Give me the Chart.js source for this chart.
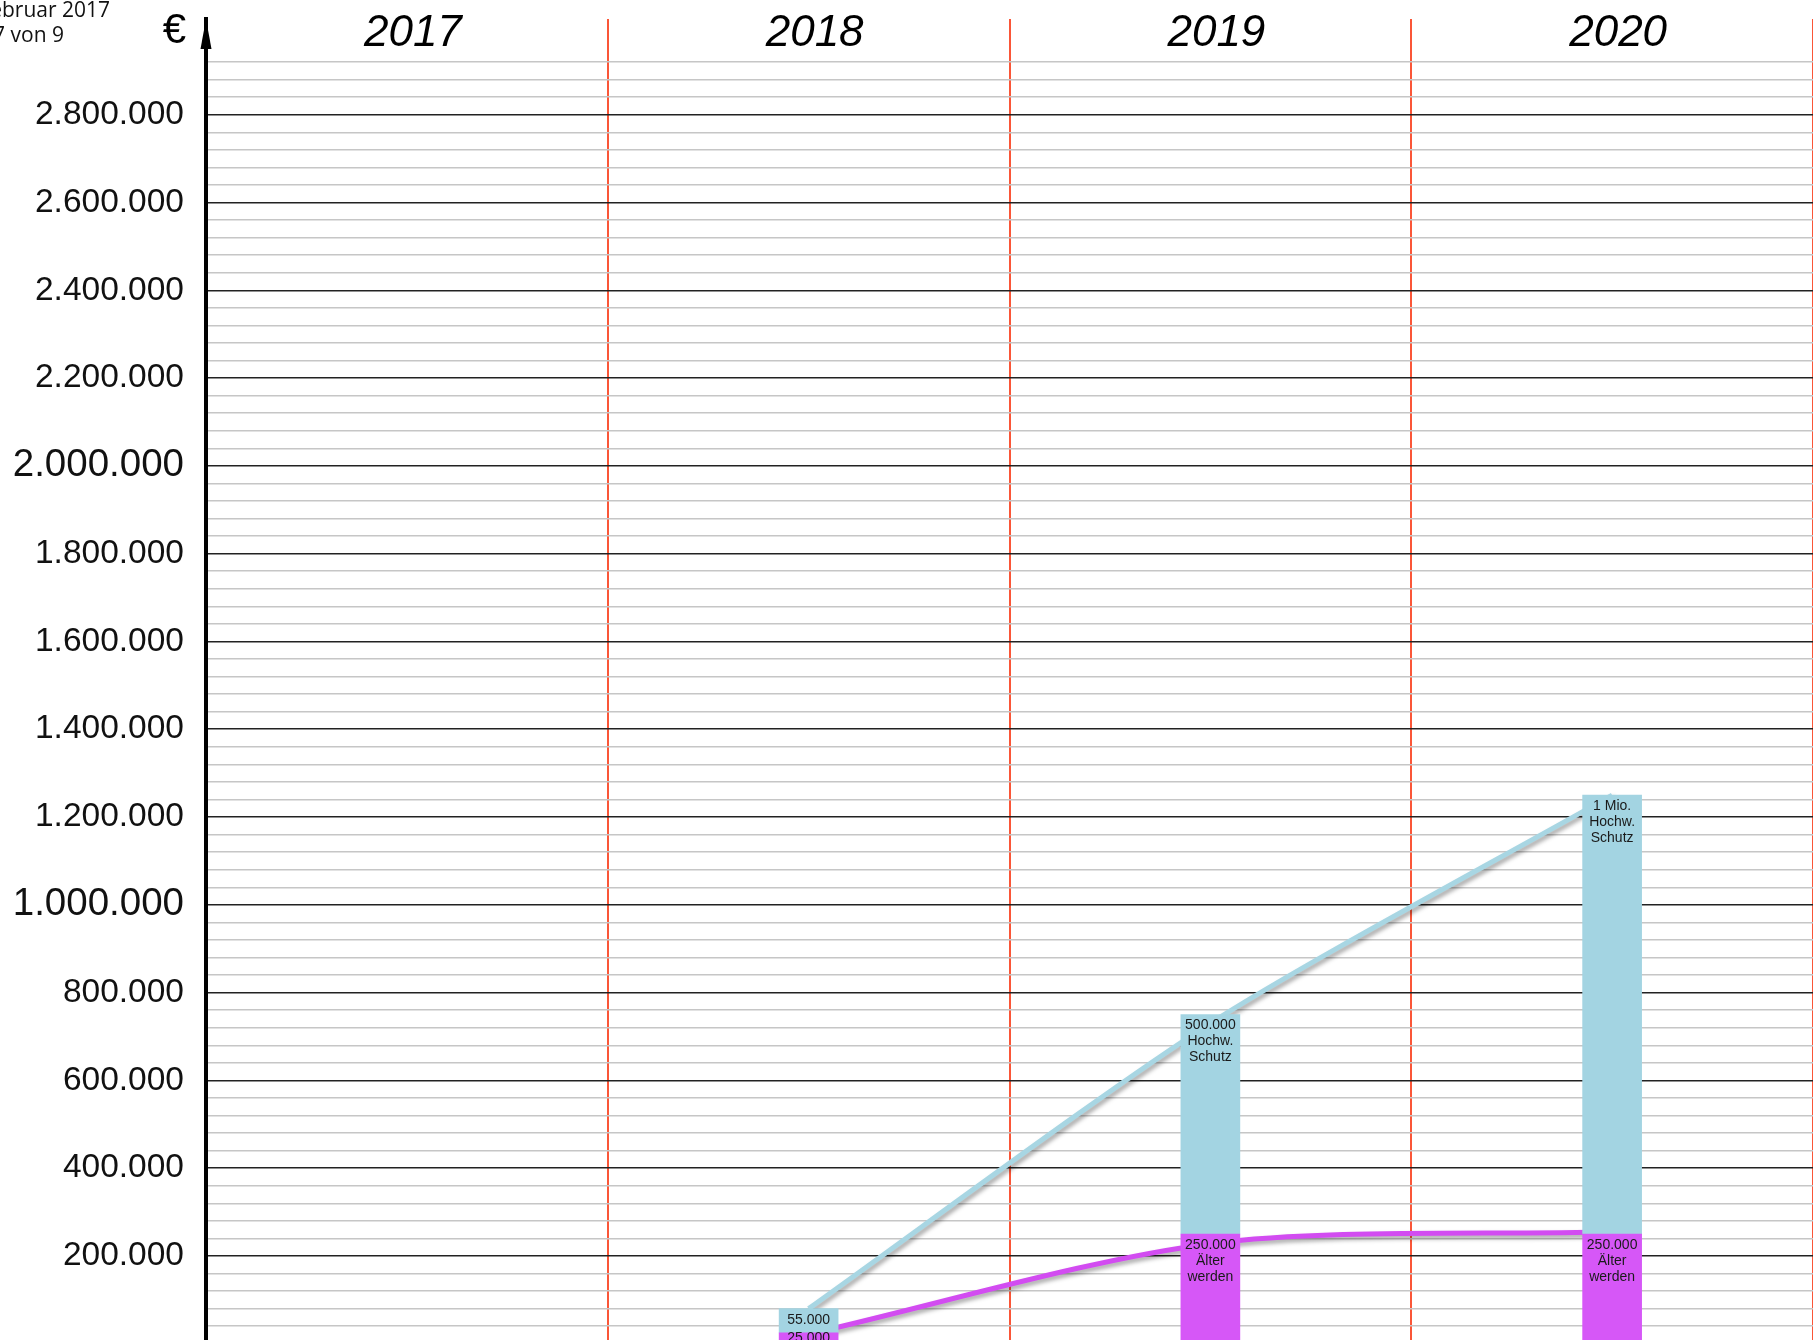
<!DOCTYPE html>
<html>
<head>
<meta charset="utf-8">
<script src="https://cdn.jsdelivr.net/npm/chart.js@4.4.0/dist/chart.umd.min.js"></script>
<style>
  html, body { margin: 0; padding: 0; background: #fff; }
  #wrap { width: 1813px; height: 1340px; position: relative; }
</style>
</head>
<body>
<div id="wrap"><canvas id="chart"></canvas></div>
<script>
// Jahre (x-Achse)
var years = ['2017', '2018', '2019', '2020'];

// gestapelte Saeulen
var aelterWerden = [null, 25000, 250000, 250000];
var hochwSchutz  = [null, 55000, 500000, 1000000];
var aelterLabels = [null, ['25.000'], ['250.000', 'Älter', 'werden'], ['250.000', 'Älter', 'werden']];
var schutzLabels = [null, ['55.000'], ['500.000', 'Hochw.', 'Schutz'], ['1 Mio.', 'Hochw.', 'Schutz']];

// Linien
var schutzLinie = [null, 80000, 730000, 1250000];
var aelterLinie = [null, 22000, 228000, 255000];

// y-Achse
var yMin = 8600, yMax = 3018000;
var gridStep = 40000, labelStep = 200000, bigStep = 1000000, yTop = 2920000;
var yTicks = [];
for (var v = gridStep; v <= yTop; v += gridStep) yTicks.push(v);

var blue = '#a3d4e2', purple = '#d657f7';
var blueLine = '#a8d6e3', purpleLine = '#d24cf1';

function fmt(v) {
  return String(v).replace(/\B(?=(\d{3})+(?!\d))/g, '.');
}

// Schatten unter den Linien
var shadowPlugin = {
  id: 'shadow',
  beforeDatasetDraw: function(chart, args) {
    if (chart.data.datasets[args.index].type !== 'line') return;
    var ctx = chart.ctx;
    ctx.save();
    ctx.shadowColor = 'rgba(0,0,0,0.35)';
    ctx.shadowBlur = 4;
    ctx.shadowOffsetX = 2;
    ctx.shadowOffsetY = 3;
  },
  afterDatasetDraw: function(chart, args) {
    if (chart.data.datasets[args.index].type !== 'line') return;
    chart.ctx.restore();
  }
};

// Beschriftungen, Jahreszahlen, Pfeil, Kopfzeile
var textPlugin = {
  id: 'texts',
  afterDatasetsDraw: function(chart) {
    var ctx = chart.ctx;
    ctx.save();
    ctx.font = '14px "Liberation Sans", Arial, sans-serif';
    ctx.fillStyle = '#1a1a1a';
    ctx.textAlign = 'center';
    ctx.textBaseline = 'middle';
    [[0, aelterLabels], [1, schutzLabels]].forEach(function(p) {
      var meta = chart.getDatasetMeta(p[0]);
      meta.data.forEach(function(bar, i) {
        var lines = p[1][i];
        if (!lines) return;
        // kleine Segmente: Text mittig, sonst oben
        var off = Math.min(11, (bar.base - bar.y) / 2);
        lines.forEach(function(t, k) {
          ctx.fillText(t, bar.x, bar.y + off + k * 16);
        });
      });
    });
    ctx.restore();
  },
  afterDraw: function(chart) {
    var ctx = chart.ctx, area = chart.chartArea, x = chart.scales.x;
    ctx.save();
    // Jahreszahlen
    ctx.font = 'italic 44px "Liberation Sans", Arial, sans-serif';
    ctx.fillStyle = '#000';
    ctx.textAlign = 'center';
    ctx.textBaseline = 'middle';
    years.forEach(function(y, i) {
      ctx.fillText(y, x.getPixelForValue(i) + 6, 34);
    });
    // Euro-Zeichen
    ctx.font = '42px "Liberation Sans", Arial, sans-serif';
    ctx.textAlign = 'right';
    ctx.fillText('€', 186, 31);
    // Pfeilspitze
    var ax = area.left;
    ctx.beginPath();
    ctx.moveTo(ax, area.top);
    ctx.lineTo(ax - 5.5, area.top + 30);
    ctx.lineTo(ax + 5.5, area.top + 30);
    ctx.closePath();
    ctx.fill();
    // Kopfzeile (angeschnitten)
    ctx.font = '21px "Open Sans", "Noto Sans", sans-serif';
    ctx.textBaseline = 'alphabetic';
    ctx.fillStyle = '#111';
    ctx.fillText('Februar 2017', 110, 17);
    ctx.fillText('Seite 7 von 9', 64, 42);
    ctx.restore();
  }
};

var ctx = document.getElementById('chart').getContext('2d');
new Chart(ctx, {
  data: {
    labels: years,
    datasets: [
      { type: 'bar', label: 'Älter werden', data: aelterWerden, backgroundColor: purple,
        stack: 'bars', barThickness: 59, order: 0 },
      { type: 'bar', label: 'Hochw. Schutz', data: hochwSchutz, backgroundColor: blue,
        stack: 'bars', barThickness: 59, order: 0 },
      { type: 'line', label: 'Hochw. Schutz Linie', data: schutzLinie, borderColor: blueLine,
        borderWidth: 5, pointRadius: 0, tension: 0.25, stack: 'l1', order: 1 },
      { type: 'line', label: 'Älter werden Linie', data: aelterLinie, borderColor: purpleLine,
        borderWidth: 5, pointRadius: 0, tension: 0.3, stack: 'l2', order: 1 }
    ]
  },
  options: {
    responsive: true,
    maintainAspectRatio: false,
    animation: false,
    layout: { autoPadding: false, padding: { top: 19, left: 0, right: 0, bottom: 0 } },
    plugins: { legend: { display: false }, tooltip: { enabled: false } },
    scales: {
      x: {
        position: 'top',
        offset: true,
        ticks: { display: false },
        border: { display: false },
        afterFit: function(scale) { scale.height = 0; },
        grid: {
          offset: true,
          drawTicks: false,
          lineWidth: 2,
          color: function(c) { return c.index === 0 ? 'rgba(0,0,0,0)' : '#fa5638'; }
        }
      },
      y: {
        stacked: true,
        min: yMin,
        max: yMax,
        afterBuildTicks: function(scale) {
          scale.ticks = yTicks.map(function(v) { return { value: v }; });
        },
        afterFit: function(scale) {
          scale.width = 206;
          scale.paddingTop = 0;
          scale.paddingBottom = 0;
        },
        border: { color: '#000', width: 4 },
        grid: {
          drawTicks: false,
          lineWidth: 1.5,
          color: function(c) {
            return c.tick && c.tick.value % labelStep === 0 ? '#222' : '#c6c6c6';
          }
        },
        ticks: {
          autoSkip: false,
          padding: 22,
          color: '#111',
          font: function(c) {
            var big = c.tick && c.tick.value % bigStep === 0;
            return { family: '"Liberation Sans", Arial, sans-serif', size: big ? 38.5 : 33.5 };
          },
          callback: function(value) {
            return value % labelStep === 0 ? fmt(value) : '';
          }
        }
      }
    }
  },
  plugins: [shadowPlugin, textPlugin]
});
</script>
</body>
</html>
